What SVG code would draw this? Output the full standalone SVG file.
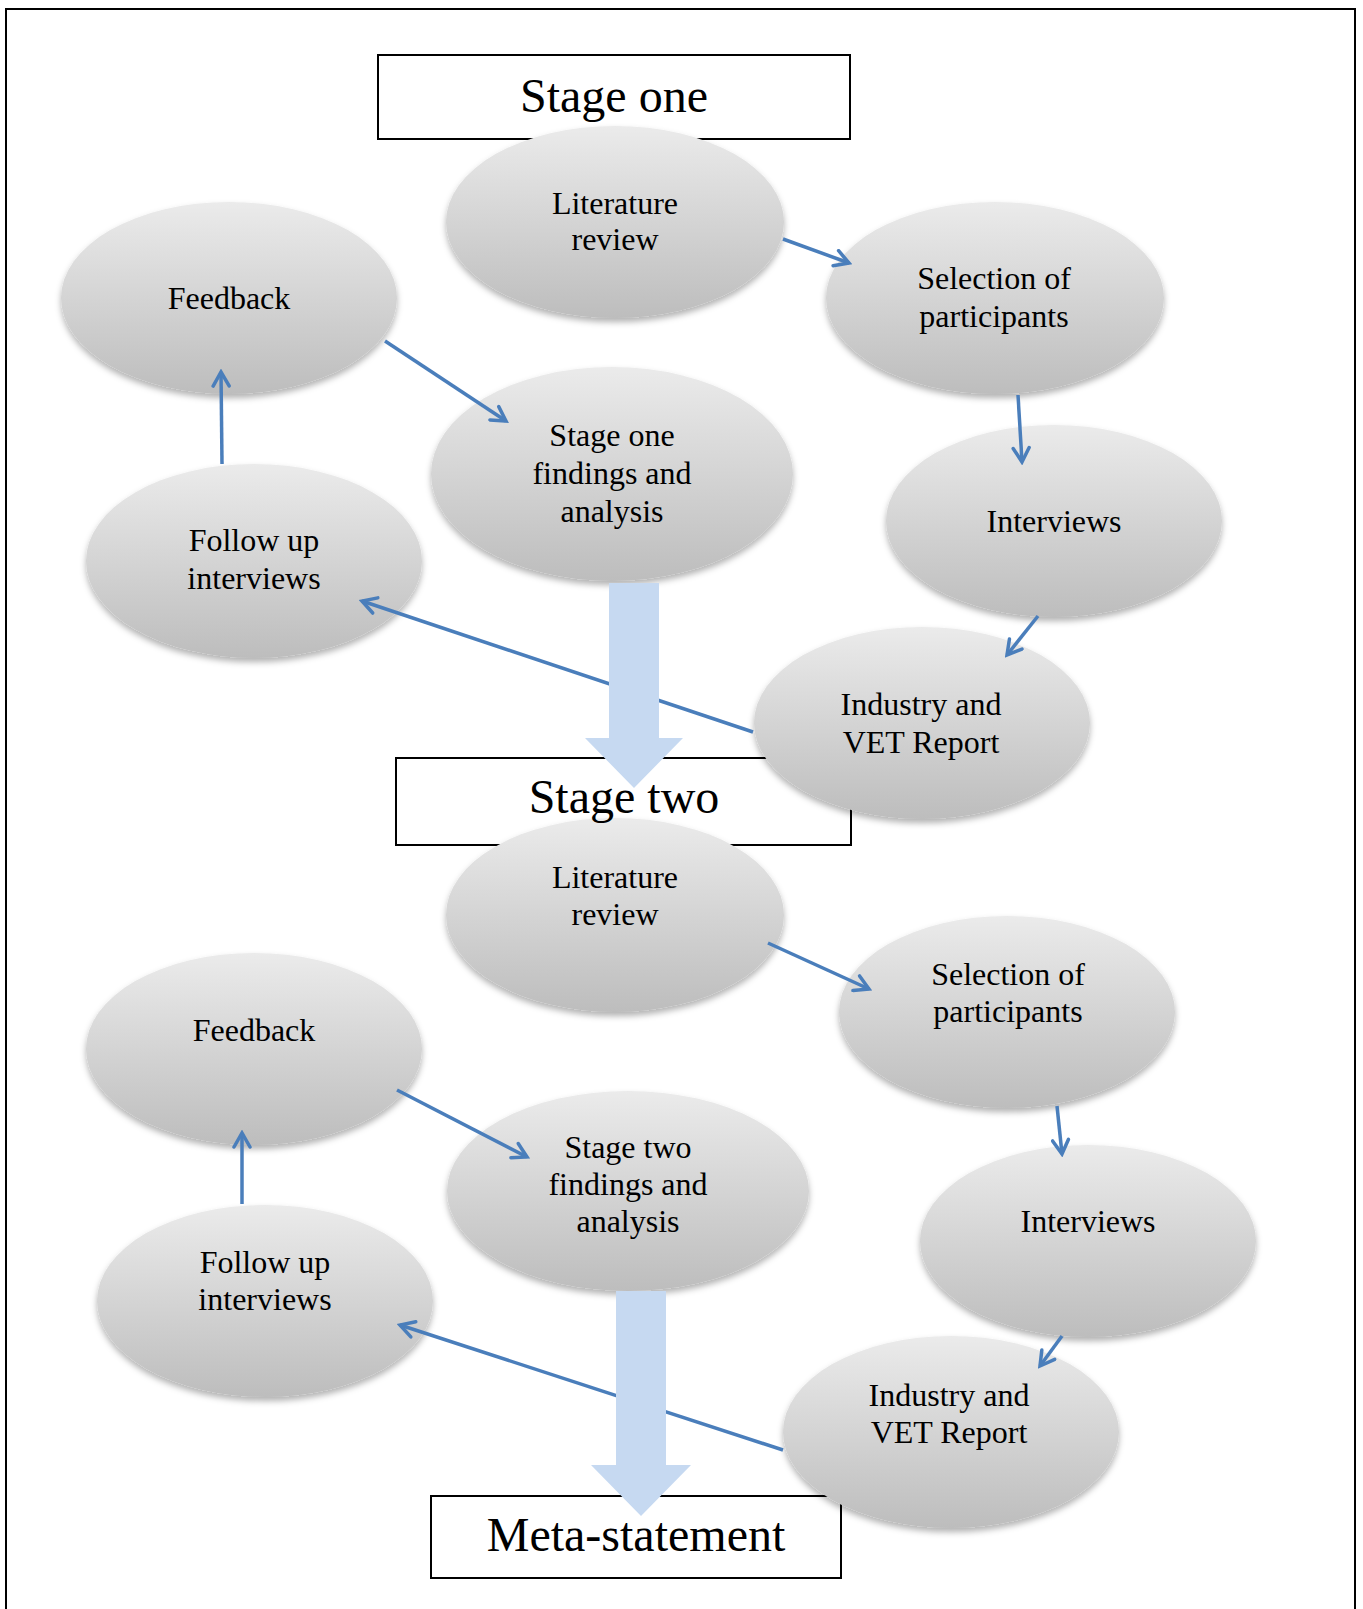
<svg xmlns="http://www.w3.org/2000/svg" width="1363" height="1609" viewBox="0 0 1363 1609">
<style>
.box{fill:#ffffff;stroke:#000000;stroke-width:2}
.node{fill:url(#g);filter:url(#sh)}
.t{font-family:"Liberation Serif","Times New Roman",serif;font-size:32px;fill:#000;text-anchor:middle}
.title{font-family:"Liberation Serif","Times New Roman",serif;font-size:48px;fill:#000;text-anchor:middle}
.c{stroke:#4a7ebb;stroke-width:3.5;fill:none;marker-end:url(#ah)}
.big{fill:#c6d9f1}
</style>
<defs>
<linearGradient id="g" x1="0" y1="0" x2="0" y2="1">
<stop offset="0" stop-color="#ebebeb"/>
<stop offset="1" stop-color="#bdbdbd"/>
</linearGradient>
<filter id="sh" x="-10%" y="-10%" width="120%" height="130%">
<feDropShadow dx="0" dy="4" stdDeviation="3" flood-color="#000" flood-opacity="0.3"/>
</filter>
<marker id="ah" viewBox="0 0 20 20" refX="17" refY="10" markerWidth="20" markerHeight="20" markerUnits="userSpaceOnUse" orient="auto">
<path d="M3,2 L17,10 L3,18" fill="none" stroke="#4a7ebb" stroke-width="3.5" stroke-linecap="round" stroke-linejoin="miter"/>
</marker>
</defs>
<rect x="6" y="9" width="1349" height="1620" fill="#fff" stroke="#000" stroke-width="2"/>

<g id="stage-one-box"><rect class="box" x="378" y="55" width="472" height="84"/><text class="title" x="614" y="112">Stage one</text></g>
<g id="stage-two-box"><rect class="box" x="396" y="758" width="455" height="87"/></g>
<g id="meta-box"><rect class="box" x="431" y="1496" width="410" height="82"/></g>

<g id="s1-literature"><ellipse class="node" cx="615" cy="222" rx="169" ry="96"/><text class="t" x="615" y="214">Literature</text><text class="t" x="615" y="250">review</text></g>
<g id="s1-selection"><ellipse class="node" cx="995" cy="298" rx="169" ry="96"/><text class="t" x="994" y="289">Selection of</text><text class="t" x="994" y="327">participants</text></g>
<g id="s1-feedback"><ellipse class="node" cx="229" cy="298" rx="168" ry="96"/><text class="t" x="229" y="309">Feedback</text></g>
<g id="s1-findings"><ellipse class="node" cx="612" cy="474" rx="181" ry="107"/><text class="t" x="612" y="446">Stage one</text><text class="t" x="612" y="484">findings and</text><text class="t" x="612" y="522">analysis</text></g>
<g id="s1-interviews"><ellipse class="node" cx="1054" cy="521" rx="168" ry="96"/><text class="t" x="1054" y="532">Interviews</text></g>
<g id="s1-followup"><ellipse class="node" cx="254" cy="561" rx="168" ry="97"/><text class="t" x="254" y="551">Follow up</text><text class="t" x="254" y="589">interviews</text></g>
<g id="s1-industry"><ellipse class="node" cx="922" cy="723" rx="168" ry="96"/><text class="t" x="921" y="715">Industry and</text><text class="t" x="921" y="753">VET Report</text></g>

<g id="s2-literature"><ellipse class="node" cx="615" cy="915" rx="169" ry="97"/><text class="t" x="615" y="888">Literature</text><text class="t" x="615" y="925">review</text></g>
<g id="s2-selection"><ellipse class="node" cx="1007" cy="1012" rx="168" ry="96"/><text class="t" x="1008" y="985">Selection of</text><text class="t" x="1008" y="1022">participants</text></g>
<g id="s2-feedback"><ellipse class="node" cx="254" cy="1049" rx="168" ry="96"/><text class="t" x="254" y="1041">Feedback</text></g>
<g id="s2-findings"><ellipse class="node" cx="628" cy="1191" rx="181" ry="100"/><text class="t" x="628" y="1158">Stage two</text><text class="t" x="628" y="1195">findings and</text><text class="t" x="628" y="1232">analysis</text></g>
<g id="s2-interviews"><ellipse class="node" cx="1088" cy="1241" rx="168" ry="96"/><text class="t" x="1088" y="1232">Interviews</text></g>
<g id="s2-followup"><ellipse class="node" cx="265" cy="1301" rx="168" ry="96"/><text class="t" x="265" y="1273">Follow up</text><text class="t" x="265" y="1310">interviews</text></g>
<g id="s2-industry"><ellipse class="node" cx="951" cy="1432" rx="168" ry="96"/><text class="t" x="949" y="1406">Industry and</text><text class="t" x="949" y="1443">VET Report</text></g>

<g id="connectors">
<line class="c" x1="783" y1="239" x2="849" y2="263"/>
<line class="c" x1="1018" y1="395" x2="1022" y2="462"/>
<line class="c" x1="1038" y1="616" x2="1007" y2="655"/>
<line class="c" x1="753" y1="732" x2="362" y2="601"/>
<line class="c" x1="222" y1="464" x2="221" y2="372"/>
<line class="c" x1="385" y1="341" x2="506" y2="421"/>
<line class="c" x1="768" y1="943" x2="869" y2="989"/>
<line class="c" x1="1057" y1="1106" x2="1062" y2="1154"/>
<line class="c" x1="1062" y1="1336" x2="1040" y2="1366"/>
<line class="c" x1="783" y1="1450" x2="400" y2="1325"/>
<line class="c" x1="242" y1="1204" x2="242" y2="1133"/>
<line class="c" x1="397" y1="1090" x2="527" y2="1157"/>
<path class="big" d="M609,583 L659,583 L659,738 L683,738 L634,788 L585,738 L609,738 Z"/>
<path class="big" d="M616,1291 L666,1291 L666,1465 L691,1465 L641,1516 L591,1465 L616,1465 Z"/>
</g>

<g id="stage-two-label"><text class="title" x="624" y="813">Stage two</text></g>
<g id="meta-label"><text class="title" x="636" y="1551">Meta-statement</text></g>
</svg>
